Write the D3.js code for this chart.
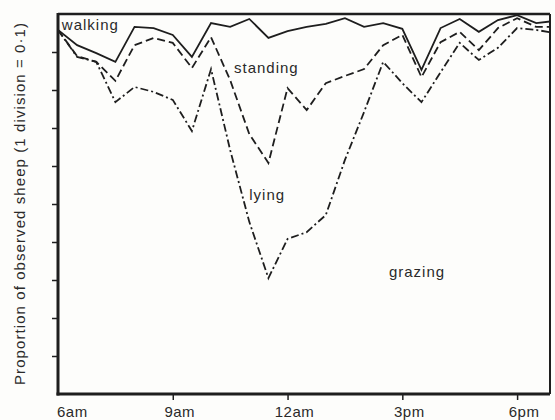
<!DOCTYPE html>
<html>
<head>
<meta charset="utf-8">
<script src="https://cdn.jsdelivr.net/npm/d3@7"></script>
<style>
  html, body { margin: 0; padding: 0; background: #fdfdfb; }
  svg { display: block; font-family: "Liberation Sans", Arial, Helvetica, sans-serif; }
</style>
</head>
<body>
<div id="chart"></div>
<script>
// half-hour observation times (hours, 24h clock)
const times = [6, 6.5, 7, 7.5, 8, 8.5, 9, 9.5, 10, 10.5, 11, 11.5, 12, 12.5,
  13, 13.5, 14, 14.5, 15, 15.5, 16, 16.5, 17, 17.5, 18, 18.5, 19];

// cumulative boundaries (proportion of sheep)
const walkingLine = [0.958, 0.918, 0.897, 0.874, 0.966, 0.963, 0.945, 0.887, 0.976, 0.966,
  0.987, 0.937, 0.955, 0.966, 0.974, 0.989, 0.966, 0.976, 0.961, 0.853,
  0.963, 0.987, 0.953, 0.984, 0.997, 0.976, 0.982];
const standingLine = [0.958, 0.889, 0.874, 0.824, 0.918, 0.937, 0.924, 0.858, 0.939, 0.826,
  0.684, 0.608, 0.805, 0.747, 0.818, 0.837, 0.855, 0.918, 0.945, 0.834,
  0.926, 0.953, 0.905, 0.963, 0.989, 0.966, 0.966];
const lyingLine = [0.958, 0.887, 0.874, 0.768, 0.808, 0.795, 0.774, 0.692, 0.855, 0.642,
  0.453, 0.305, 0.408, 0.426, 0.471, 0.616, 0.742, 0.874, 0.818, 0.768,
  0.847, 0.924, 0.879, 0.911, 0.963, 0.958, 0.950];

const tickHours = [6, 9, 12, 15, 18];
const tickLabels = ["6am", "9am", "12am", "3pm", "6pm"];
const yTicks = [0.1, 0.2, 0.3, 0.4, 0.5, 0.6, 0.7, 0.8, 0.9];

// area labels: [text, hour, proportion]
const areaLabels = [
  ["walking", 6.1, 0.958],
  ["standing", 10.6, 0.845],
  ["lying", 11.0, 0.51],
  ["grazing", 14.65, 0.308]
];

const width = 555, height = 420;
const margin = { top: 14, right: 5, bottom: 26, left: 58 };
const ink = "#1e1e1e";

let svg = d3.select("#chart").append("svg")
  .attr("width", width)
  .attr("height", height);

let x = d3.scaleLinear()
  .domain([6, 18.86])
  .range([margin.left, width - margin.right]);

let y = d3.scaleLinear()
  .domain([0, 1])
  .range([height - margin.bottom, margin.top]);

svg.append("clipPath").attr("id", "plot")
  .append("rect")
  .attr("x", x(6)).attr("y", y(1))
  .attr("width", x(18.86) - x(6))
  .attr("height", y(0) - y(1));

// frame: top and right thinner
svg.append("line")
  .attr("x1", x(6)).attr("x2", x(18.86))
  .attr("y1", y(1)).attr("y2", y(1))
  .attr("stroke", ink).attr("stroke-width", 2.5);
svg.append("line")
  .attr("x1", x(18.86)).attr("x2", x(18.86))
  .attr("y1", y(1)).attr("y2", y(0))
  .attr("stroke", ink).attr("stroke-width", 2);

// y axis ticks only
let yAxis = d3.axisLeft(y).tickValues(yTicks).tickSize(6).tickFormat("");
let gy = svg.append("g")
  .attr("transform", "translate(" + x(6) + ",0)")
  .call(yAxis);
gy.select(".domain").remove();
gy.selectAll(".tick line").attr("stroke", ink).attr("stroke-width", 1.5);

// x axis ticks
let xAxis = d3.axisBottom(x).tickValues(tickHours.slice(1)).tickSize(6).tickFormat("");
let gx = svg.append("g")
  .attr("transform", "translate(0," + y(0) + ")")
  .call(xAxis);
gx.select(".domain").remove();
gx.selectAll(".tick line").attr("stroke", ink).attr("stroke-width", 1.5);

// thick axes lines
svg.append("line")
  .attr("x1", x(6)).attr("x2", x(6))
  .attr("y1", y(1) - 1).attr("y2", y(0) + 1.5)
  .attr("stroke", ink).attr("stroke-width", 3);
svg.append("line")
  .attr("x1", x(6) - 1.5).attr("x2", x(18.86))
  .attr("y1", y(0)).attr("y2", y(0))
  .attr("stroke", ink).attr("stroke-width", 3);

// tick labels
svg.append("g").selectAll("text")
  .data(tickHours)
  .enter().append("text")
  .attr("x", (d, i) => i === 0 ? x(d) - 1 : x(d) + 7)
  .attr("y", y(0) + 23)
  .attr("text-anchor", (d, i) => i === 0 ? "start" : "middle")
  .attr("font-size", 15)
  .attr("letter-spacing", 0.5)
  .attr("fill", "#2a2a2a")
  .text((d, i) => tickLabels[i]);

// y title
svg.append("text")
  .attr("transform", "translate(25," + (y(0) + y(1)) / 2 + ") rotate(-90)")
  .attr("text-anchor", "middle")
  .attr("font-size", 15)
  .attr("textLength", 362)
  .attr("lengthAdjust", "spacing")
  .attr("fill", "#2a2a2a")
  .text("Proportion of observed sheep (1 division = 0·1)");

// the three boundary lines
let line = d3.line()
  .x((d, i) => x(times[i]))
  .y(d => y(d));

let plot = svg.append("g").attr("clip-path", "url(#plot)");

plot.append("path")
  .datum(lyingLine)
  .attr("fill", "none")
  .attr("stroke", ink)
  .attr("stroke-width", 1.8)
  .attr("stroke-dasharray", "8,3,2,3")
  .attr("d", line);

plot.append("path")
  .datum(standingLine)
  .attr("fill", "none")
  .attr("stroke", ink)
  .attr("stroke-width", 1.8)
  .attr("stroke-dasharray", "8,4")
  .attr("d", line);

plot.append("path")
  .datum(walkingLine)
  .attr("fill", "none")
  .attr("stroke", ink)
  .attr("stroke-width", 1.8)
  .attr("d", line);

// area labels
svg.append("g").selectAll("text")
  .data(areaLabels)
  .enter().append("text")
  .attr("x", d => x(d[1]))
  .attr("y", d => y(d[2]))
  .attr("font-size", 15)
  .attr("letter-spacing", 1)
  .attr("fill", "#2a2a2a")
  .text(d => d[0]);
</script>
</body>
</html>
